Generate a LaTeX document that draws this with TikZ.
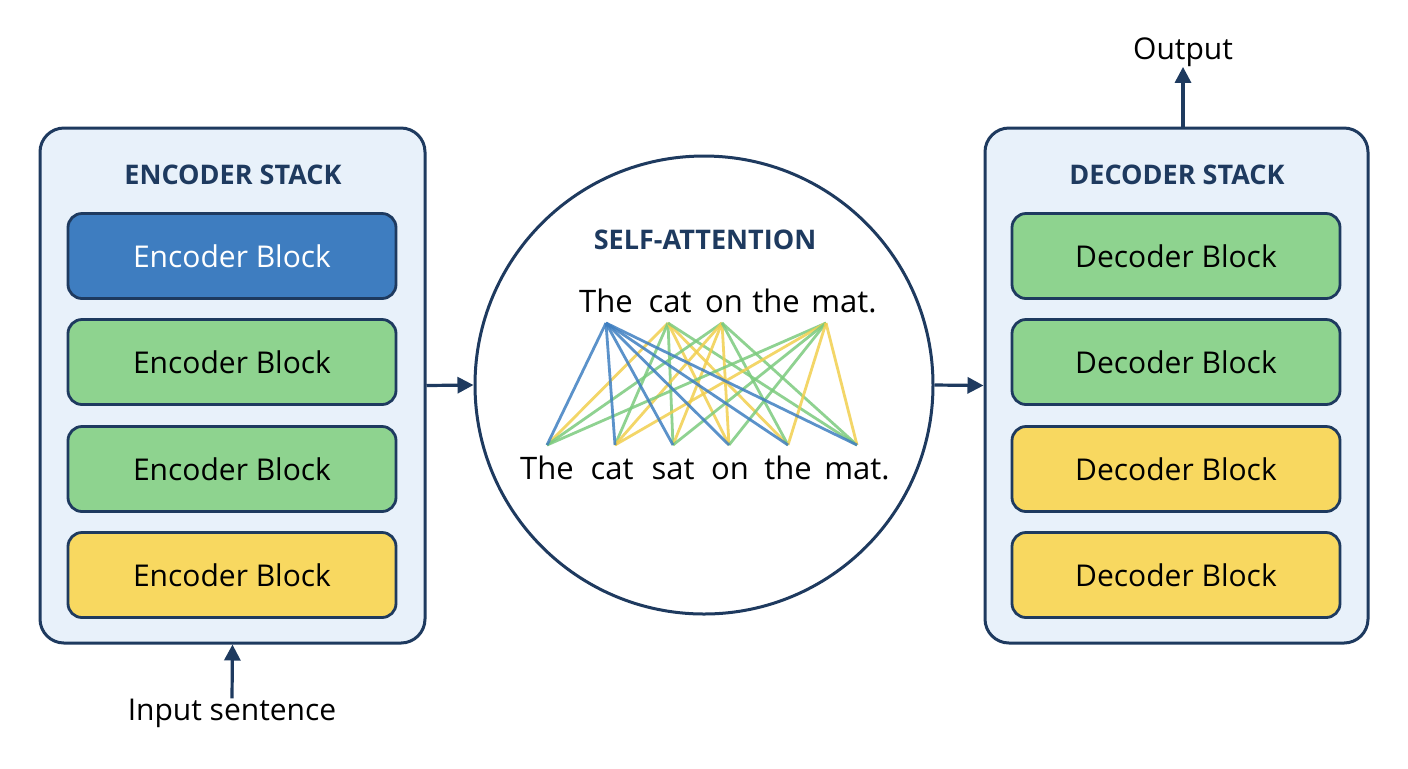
\documentclass[tikz,border=0pt]{standalone}
\usepackage{fontspec}
\setmainfont{Open Sans}
\usetikzlibrary{arrows.meta}
\definecolor{navy}{HTML}{1E3A5F}
\definecolor{stackbg}{HTML}{E8F1FA}
\definecolor{bblue}{HTML}{3E7DC0}
\definecolor{bgreen}{HTML}{8ED38F}
\definecolor{byellow}{HTML}{F8D860}
\definecolor{lblue}{HTML}{3F7FC1}
\definecolor{lgreen}{HTML}{7CCB7E}
\definecolor{lyellow}{HTML}{F2CF4E}
\begin{document}
\begin{tikzpicture}[x=0.5pt,y=-0.5pt,
  stack/.style={draw=navy,line width=1.5pt,fill=stackbg,rounded corners=12pt},
  block/.style={draw=navy,line width=1.4pt,rounded corners=7pt,minimum width=164pt,minimum height=42.5pt,font=\fontsize{15}{17}\selectfont,inner sep=0pt},
  title/.style={font=\fontsize{13.5}{15}\selectfont\bfseries,text=navy},
  arr/.style={draw=navy,line width=1.6pt,-{Triangle[length=8pt,width=8pt]}},
  word/.style={font=\fontsize{15}{17}\selectfont,inner sep=0pt},
  sw/.style={font=\fontsize{15.5}{17}\selectfont,inner sep=0pt,anchor=base},
  att/.style={line width=1.4pt,opacity=0.85}]
\useasboundingbox (0,0) rectangle (1408,768);
\fill[white] (0,0) rectangle (1408,768);
% stacks
\node[stack,minimum width=192.5pt,minimum height=257.5pt] (enc) at (232.5,385.5) {};
\node[stack,minimum width=191.5pt,minimum height=257.5pt] (dec) at (1176.5,385.5) {};
\node[title] (enct) at (233,175) {ENCODER STACK};
\node[title] (dect) at (1177,175) {DECODER STACK};
\node[block,fill=bblue,text=white] (e1) at (232,256) {Encoder Block};
\node[block,fill=bgreen] (e2) at (232,362) {Encoder Block};
\node[block,fill=bgreen] (e3) at (232,469) {Encoder Block};
\node[block,fill=byellow] (e4) at (232,575) {Encoder Block};
\node[block,fill=bgreen] (d1) at (1176,256) {Decoder Block};
\node[block,fill=bgreen] (d2) at (1176,362) {Decoder Block};
\node[block,fill=byellow] (d3) at (1176,469) {Decoder Block};
\node[block,fill=byellow] (d4) at (1176,575) {Decoder Block};
% circle
\node[circle,draw=navy,line width=1.5pt,fill=white,minimum size=229pt,inner sep=0pt] (att) at (704,385) {};
\node[title] (sat) at (705,240) {SELF-ATTENTION};
% words
\node[sw] (t1) at (606,312) {The};
\node[sw] (t2) at (670,312) {cat};
\node[sw] (t3) at (724,312) {on};
\node[sw] (t4) at (776,312) {the};
\node[sw] (t5) at (844,312) {mat.};
\node[sw] (b1) at (547,479) {The};
\node[sw] (b2) at (612,479) {cat};
\node[sw] (b3) at (673,479) {sat};
\node[sw] (b4) at (730,479) {on};
\node[sw] (b5) at (788,479) {the};
\node[sw] (b6) at (857,479) {mat.};
\coordinate (p1) at (606,323);
\coordinate (p2) at (668,323);
\coordinate (p3) at (722,323);
\coordinate (p4) at (826,323);
\coordinate (q1) at (547,445);
\coordinate (q2) at (615,445);
\coordinate (q3) at (673,445);
\coordinate (q4) at (729,445);
\coordinate (q5) at (788,445);
\coordinate (q6) at (857,445);
\foreach \q/\c in {q1/lyellow,q2/lgreen,q3/lgreen,q4/lyellow,q5/lyellow,q6/lgreen}
  \draw[att,\c] (p2) -- (\q);
\foreach \q/\c in {q1/lgreen,q2/lyellow,q3/lyellow,q4/lyellow,q5/lgreen,q6/lgreen}
  \draw[att,\c] (p3) -- (\q);
\foreach \q/\c in {q1/lgreen,q2/lyellow,q3/lgreen,q4/lgreen,q5/lyellow,q6/lyellow}
  \draw[att,\c] (p4) -- (\q);
\foreach \q in {q1,q2,q3,q4,q5,q6}
  \draw[att,lblue] (p1) -- (\q);
% arrows
\draw[arr] (enc.east) -- (att.west);
\draw[arr] (att.east) -- (dec.west);
\node[word] (in) at (232,713) {Input sentence};
\node[word] (out) at (1183,52) {Output};
\draw[arr] (in.north) -- (enc.south);
\draw[arr] (dec.north -| out) -- (out.south);
\end{tikzpicture}
\end{document}
